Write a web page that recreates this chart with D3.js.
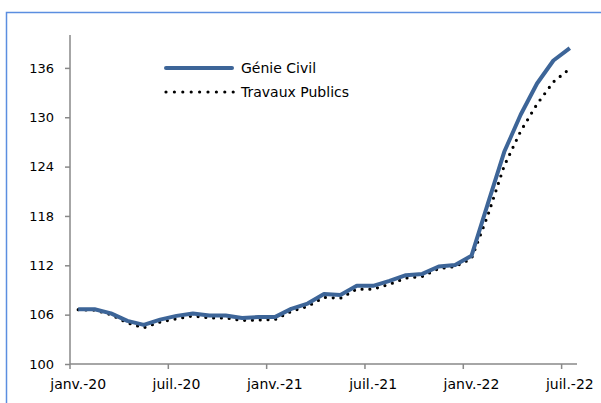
<!DOCTYPE html>
<html>
<head>
<meta charset="utf-8">
<script src="https://cdn.jsdelivr.net/npm/d3@7"></script>
<style>
  body { margin: 0; background: #fff; }
  svg text { font-family: Tahoma, "DejaVu Sans", sans-serif; font-size: 14px; fill: #000; }
</style>
</head>
<body>
<div id="chart"></div>
<script>
// months janv.-20 .. juil.-22
let months = ['janv.-20','févr.-20','mars-20','avr.-20','mai-20','juin-20','juil.-20','août-20','sept.-20','oct.-20','nov.-20','déc.-20',
              'janv.-21','févr.-21','mars-21','avr.-21','mai-21','juin-21','juil.-21','août-21','sept.-21','oct.-21','nov.-21','déc.-21',
              'janv.-22','févr.-22','mars-22','avr.-22','mai-22','juin-22','juil.-22'];

let genieCivil = [106.65,106.65,106.15,105.25,104.75,105.4,105.85,106.15,105.9,105.9,105.6,105.7,
                  105.7,106.7,107.35,108.5,108.4,109.5,109.5,110.1,110.8,110.95,111.85,112.05,
                  113.15,119.5,125.8,130.3,134.1,136.9,138.4];

let travauxPublics = [106.6,106.55,106.0,105.0,104.4,105.1,105.5,105.85,105.6,105.6,105.3,105.35,
                      105.4,106.4,107.0,108.1,108.0,109.1,109.1,109.7,110.45,110.65,111.6,111.85,
                      112.8,118.1,124.1,128.3,131.6,134.3,135.9];

let yTicks = [100,106,112,118,124,130,136];
let xTickLabels = ['janv.-20','juil.-20','janv.-21','juil.-21','janv.-22','juil.-22'];

let dim = {'width': 601, 'height': 403};

let svg = d3.select('#chart').append('svg')
    .attr('width', dim.width)
    .attr('height', dim.height);

// light blue frame
svg.append('rect')
    .attr('x', 6.5).attr('y', 12.5)
    .attr('width', 620).attr('height', 420)
    .attr('fill', 'none')
    .attr('stroke', '#5b8ee0')
    .attr('stroke-width', 1.5);

let x = d3.scaleBand().domain(months).range([70, 578]);
let y = d3.scaleLinear().domain([100, 140]).range([364, 35]);

// y axis
let yAxis = svg.append('g')
    .attr('transform', 'translate(70,0)')
    .call(d3.axisLeft(y).tickValues(yTicks).tickSize(5).tickPadding(11).tickFormat(d3.format('d')));
yAxis.select('.domain').attr('stroke', '#888').attr('stroke-width', 1.5).attr('d', 'M0,' + y(140) + 'V' + y(100));
yAxis.selectAll('.tick line').attr('stroke', '#888').attr('stroke-width', 1.5);
yAxis.selectAll('text').style('font-size', '13px');

// x axis: ticks at category starts, labels centered on category
let xg = svg.append('g').attr('transform', 'translate(0,364)');
xg.append('line')
    .attr('x1', 70).attr('x2', 577)
    .attr('stroke', '#888').attr('stroke-width', 1.5);
xg.selectAll('line.tick')
    .data(xTickLabels)
    .join('line')
    .attr('class', 'tick')
    .attr('x1', d => x(d)).attr('x2', d => x(d))
    .attr('y1', 0).attr('y2', 5)
    .attr('stroke', '#888').attr('stroke-width', 1.5);
xg.selectAll('text')
    .data(xTickLabels)
    .join('text')
    .attr('x', d => x(d) + x.bandwidth() / 2)
    .attr('y', 25)
    .attr('text-anchor', 'middle')
    .text(d => d);

let line = d3.line()
    .x((d, i) => x(months[i]) + x.bandwidth() / 2)
    .y(d => y(d));

svg.append('path')
    .datum(travauxPublics)
    .attr('d', line)
    .attr('fill', 'none')
    .attr('stroke', '#000')
    .attr('stroke-width', 3.2)
    .attr('stroke-linecap', 'round')
    .attr('stroke-dasharray', '0 7.8');

svg.append('path')
    .datum(genieCivil)
    .attr('d', line)
    .attr('fill', 'none')
    .attr('stroke', '#3d6598')
    .attr('stroke-width', 4)
    .attr('stroke-linejoin', 'round');

// legend
let legend = [
    {name: 'Génie Civil', y: 68},
    {name: 'Travaux Publics', y: 92}
];
let lg = svg.append('g');
lg.append('line')
    .attr('x1', 166).attr('x2', 232).attr('y1', legend[0].y).attr('y2', legend[0].y)
    .attr('stroke', '#3d6598').attr('stroke-width', 4).attr('stroke-linecap', 'round');
lg.append('line')
    .attr('x1', 166).attr('x2', 234).attr('y1', legend[1].y).attr('y2', legend[1].y)
    .attr('stroke', '#000').attr('stroke-width', 3.2)
    .attr('stroke-linecap', 'round').attr('stroke-dasharray', '0 8.4');
lg.selectAll('text')
    .data(legend)
    .join('text')
    .attr('x', 241)
    .attr('y', d => d.y + 5)
    .text(d => d.name);
</script>
</body>
</html>
